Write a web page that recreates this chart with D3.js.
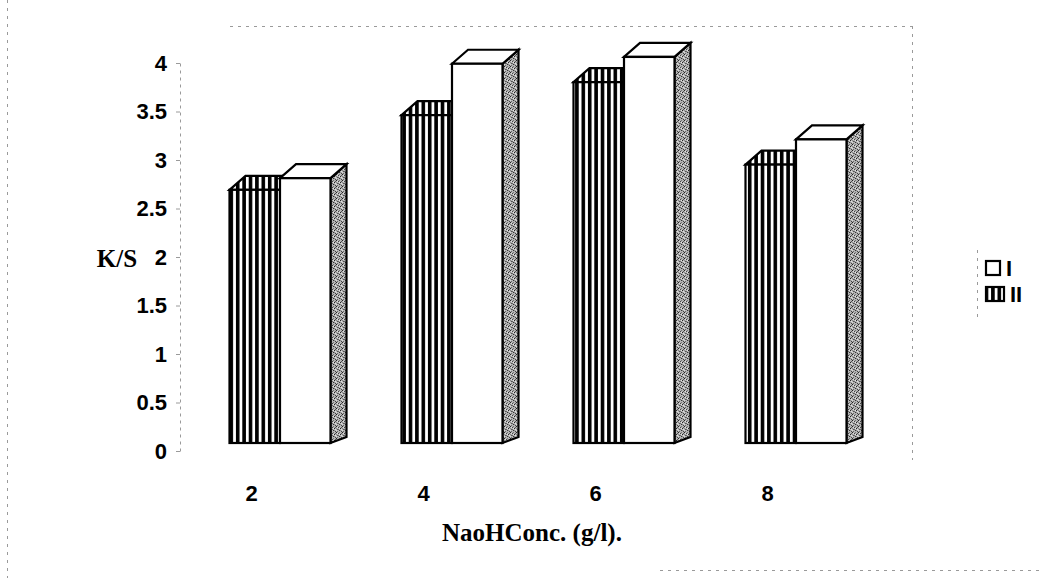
<!DOCTYPE html>
<html>
<head>
<meta charset="utf-8">
<script src="https://cdn.jsdelivr.net/npm/d3@7"></script>
<style>
  html, body { margin: 0; padding: 0; background: #fff; }
  svg { display: block; }
</style>
</head>
<body>
<svg id="chart" width="1040" height="578"></svg>
<script>
// K/S against NaOH concentration, two treatments shown as 3-D columns
const categories = ['2', '4', '6', '8'];
const seriesNames = ['I', 'II'];
const valuesI = [2.73, 3.91, 3.98, 3.13];
const valuesII = [2.61, 3.38, 3.72, 2.87];
const yTicks = [0, 0.5, 1, 1.5, 2, 2.5, 3, 3.5, 4];

const svg = d3.select('#chart');
svg.append('rect').attr('width', 1040).attr('height', 578).attr('fill', '#fff');

const defs = svg.append('defs');

// vertical hatch used for series II
const stripe = defs.append('pattern')
  .attr('id', 'stripes').attr('patternUnits', 'userSpaceOnUse')
  .attr('width', 6.4).attr('height', 20).attr('x', 229.5);
stripe.append('rect').attr('width', 6.4).attr('height', 20).attr('fill', '#fff');
stripe.append('rect').attr('x', 0).attr('width', 3.6).attr('height', 20).attr('fill', '#000');

// stippled grey for the shaded side faces
const grain = defs.append('pattern')
  .attr('id', 'grain').attr('patternUnits', 'userSpaceOnUse')
  .attr('width', 6).attr('height', 6);
grain.append('rect').attr('width', 6).attr('height', 6).attr('fill', '#b4b4b4');
[[0, 0, '#222'], [2, 1, '#444'], [4, 2, '#222'], [1, 3, '#555'], [3, 4, '#333'],
 [5, 5, '#444'], [3, 0, '#777'], [0, 2, '#888'], [2, 3, '#666'], [4, 4, '#888'],
 [5, 1, '#555'], [1, 5, '#666'], [5, 3, '#e0e0e0'], [1, 1, '#dcdcdc'], [3, 2, '#e4e4e4'],
 [0, 4, '#d8d8d8']].forEach(([px, py, c]) => {
  grain.append('rect').attr('x', px).attr('y', py).attr('width', 1).attr('height', 1).attr('fill', c);
});

// faint frame lines of the chart and plot area
const frame = svg.append('g').attr('fill', 'none').attr('stroke', '#9a9a9a')
  .attr('stroke-width', 1).attr('stroke-dasharray', '3,5');
frame.append('line').attr('x1', 7.5).attr('y1', 0).attr('x2', 7.5).attr('y2', 578);
frame.append('line').attr('x1', 230).attr('y1', 26.5).attr('x2', 912).attr('y2', 26.5);
frame.append('line').attr('x1', 912.5).attr('y1', 26).attr('x2', 912.5).attr('y2', 460);
frame.append('line').attr('x1', 660).attr('y1', 570.5).attr('x2', 1040).attr('y2', 570.5);
frame.append('line').attr('x1', 977.5).attr('y1', 250).attr('x2', 977.5).attr('y2', 318);

// scales
const x = d3.scaleBand().domain(categories).range([194, 882]).padding(0);
const pairW = 101;
const inner = d3.scaleBand().domain(['II', 'I']).range([0, pairW]);
const y = d3.scaleLinear().domain([0, 4]).range([443, 55]);
const DX = 16, DY = -14;

// value axis
const yAxis = svg.append('g')
  .attr('transform', 'translate(180,8)')
  .call(d3.axisLeft(y).tickValues(yTicks).tickSize(4).tickSizeOuter(0).tickPadding(9)
    .tickFormat(d3.format('')));
yAxis.select('.domain').attr('stroke', '#9a9a9a').attr('stroke-dasharray', '3,4');
yAxis.selectAll('.tick line').attr('stroke', '#9a9a9a');
yAxis.selectAll('.tick text')
  .attr('fill', '#000')
  .style('font', 'bold 22px "Liberation Sans", Arial, sans-serif');

// columns
const pairStart = c => x(c) + (x.bandwidth() - pairW) / 2;
const bars = svg.append('g').attr('stroke', '#000').attr('stroke-width', 2.2)
  .attr('stroke-linejoin', 'miter');

categories.forEach((c, i) => {
  const x0 = pairStart(c);
  // series II (hatched) sits on the left
  const xa = x0 + inner('II'), wa = inner.bandwidth();
  const ta = y(valuesII[i]), b = y(0);
  bars.append('path')
    .attr('d', `M${xa},${ta} L${xa + DX},${ta + DY} L${xa + wa + DX},${ta + DY} L${xa + wa},${ta} Z`)
    .attr('fill', 'url(#stripes)');
  bars.append('rect').attr('x', xa).attr('y', ta).attr('width', wa).attr('height', b - ta)
    .attr('fill', 'url(#stripes)');

  // series I (white) with its shaded side
  const xb = x0 + inner('I'), wb = inner.bandwidth();
  const tb = y(valuesI[i]);
  bars.append('path')
    .attr('d', `M${xb + wb},${tb} L${xb + wb + DX},${tb + DY} L${xb + wb + DX},${b + DY + 8} L${xb + wb},${b} Z`)
    .attr('fill', 'url(#grain)');
  bars.append('path')
    .attr('d', `M${xb},${tb} L${xb + DX},${tb + DY} L${xb + wb + DX},${tb + DY} L${xb + wb},${tb} Z`)
    .attr('fill', '#fff');
  bars.append('rect').attr('x', xb).attr('y', tb).attr('width', wb).attr('height', b - tb)
    .attr('fill', '#fff');
});

// category labels
svg.append('g').selectAll('text').data(categories).join('text')
  .attr('x', c => pairStart(c) + 22)
  .attr('y', 493)
  .attr('text-anchor', 'middle')
  .attr('dominant-baseline', 'central')
  .style('font', 'bold 22px "Liberation Sans", Arial, sans-serif')
  .text(c => c);

// axis titles
svg.append('text').attr('x', 532).attr('y', 532)
  .attr('text-anchor', 'middle').attr('dominant-baseline', 'central')
  .style('font', 'bold 25px "Liberation Serif", "Times New Roman", serif')
  .text('NaoHConc. (g/l).');
svg.append('text').attr('x', 117).attr('y', 258)
  .attr('text-anchor', 'middle').attr('dominant-baseline', 'central')
  .style('font', 'bold 25px "Liberation Serif", "Times New Roman", serif')
  .text('K/S');

// legend
const legend = svg.append('g');
const legendRows = [
  { name: seriesNames[0], fill: '#fff', y: 268, w: 14 },
  { name: seriesNames[1], fill: 'url(#stripes)', y: 294, w: 18 }
];
legendRows.forEach(r => {
  legend.append('rect').attr('x', 986).attr('y', r.y - 7).attr('width', r.w).attr('height', 14)
    .attr('fill', r.fill).attr('stroke', '#000').attr('stroke-width', 2.2);
  legend.append('text').attr('x', 986 + r.w + 6).attr('y', r.y)
    .attr('dominant-baseline', 'central')
    .style('font', 'bold 22px "Liberation Sans", Arial, sans-serif')
    .text(r.name);
});
</script>
</body>
</html>
